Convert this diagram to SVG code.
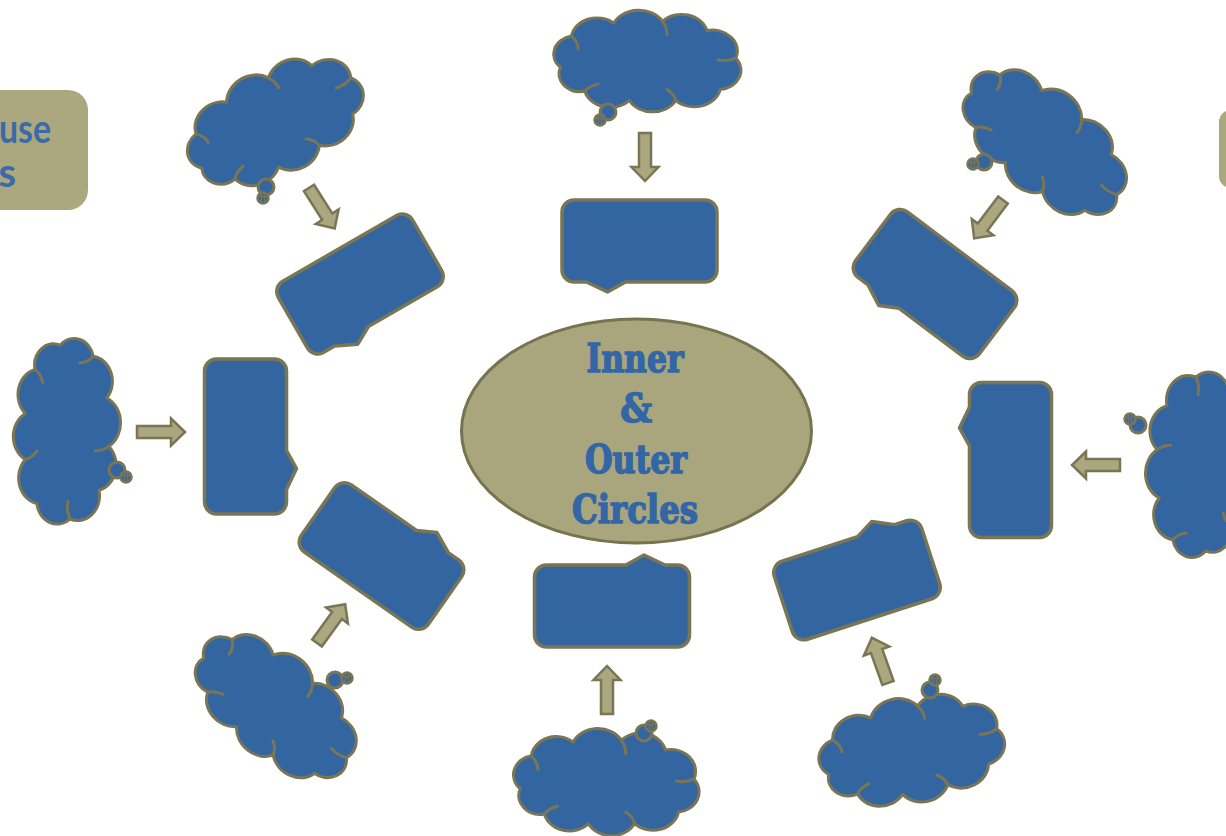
<svg xmlns="http://www.w3.org/2000/svg" xmlns:xlink="http://www.w3.org/1999/xlink" width="1226" height="836" viewBox="0 0 1226 836">
<style>
.cl{fill:#3366A1;stroke:#7A7655;stroke-width:3;stroke-linejoin:round}
.hk{fill:none;stroke:#7A7655;stroke-width:3;stroke-linecap:round}
.bx{fill:#3366A1;stroke:#7A7655;stroke-width:3.5;stroke-linejoin:round}
.ar{fill:#ABA77E;stroke:#7A7655;stroke-width:2.5}
.sd{fill:#3366A1;stroke:#7A7655;stroke-width:2.5}
.sx{fill:none;stroke:#7A7655;stroke-width:1.3}
.ct{font-family:'DejaVu Serif Condensed','DejaVu Serif',serif;font-stretch:condensed;font-weight:bold;font-size:39px;fill:#3366A6;stroke:#3366A6;stroke-width:1.4;text-anchor:middle}
.pt{font-family:Lato,'Liberation Sans',sans-serif;font-weight:bold;font-size:40px;fill:#3B6AA8;text-anchor:end}
</style>
<defs>
<g id="cloud">
<path class="cl" vector-effect="non-scaling-stroke" d="M-78,8 A20,20 0 0 1 -68,-26 A23,23 0 0 1 -30,-40 A25,25 0 0 1 14,-42 A23.5,23.5 0 0 1 54,-32 A22.6,22.6 0 0 1 80,-2 A21,21 0 0 1 66,32 A23.8,23.8 0 0 1 26,44 A24,24 0 0 1 -16,44 A23.5,23.5 0 0 1 -56,34 A19.4,19.4 0 0 1 -78,8 Z"/>
<path class="hk" vector-effect="non-scaling-stroke" d="M-68,-26 Q-62,-20 -62,-12 M14,-42 Q18,-36 18,-28 M80,-2 Q72,2 64,0 M26,44 Q24,36 18,32 M-56,34 Q-52,28 -44,26"/>
</g>
<g id="dot">
<circle r="5.5" class="sd"/>
<path class="sx" d="M-4,-1.5H4M-1.5,-4V4M1.5,-4V4"/>
</g>
<path id="callout" class="bx" d="M-65.5,-41 H65.5 A12,12 0 0 1 77.5,-29 V29 A12,12 0 0 1 65.5,41 H-14 L-32,51 L-53,41 H-65.5 A12,12 0 0 1 -77.5,29 V-29 A12,12 0 0 1 -65.5,-41 Z"/>
<path id="arrow" class="ar" d="M0,-6 L34,-6 L34,-13.5 L48,0 L34,13.5 L34,6 L0,6 Z"/>
</defs>

<g id="side-left">
<rect x="-40" y="90" width="128" height="120" rx="20" fill="#ABA77E"/>
<text class="pt" x="51" y="143" textLength="52" lengthAdjust="spacingAndGlyphs">use</text>
<text class="pt" x="16" y="187">s</text>
</g>
<g id="side-right">
<rect x="1219" y="110" width="40" height="78" rx="12" fill="#ABA77E"/>
</g>

<g id="center">
<ellipse cx="636.5" cy="431" rx="175" ry="112" fill="#A9A57C" stroke="#77734F" stroke-width="3"/>
<text class="ct" x="635" y="372" textLength="97" lengthAdjust="spacingAndGlyphs">Inner</text>
<text class="ct" x="636" y="422">&amp;</text>
<text class="ct" x="636" y="473" textLength="102" lengthAdjust="spacingAndGlyphs">Outer</text>
<text class="ct" x="635" y="523" textLength="126" lengthAdjust="spacingAndGlyphs">Circles</text>
</g>

<g id="box-top"><use href="#callout" transform="translate(639.5,241)"/></g>
<g id="box-bottom"><use href="#callout" transform="translate(612,606) rotate(180)"/></g>
<g id="box-left"><use href="#callout" transform="translate(245.5,436.5) rotate(-90)"/></g>
<g id="box-right"><use href="#callout" transform="translate(1010.5,460) rotate(90)"/></g>
<g id="box-top-left"><use href="#callout" transform="translate(360,284) rotate(-30)"/></g>
<g id="box-top-right"><use href="#callout" transform="translate(935,284) rotate(37)"/></g>
<g id="box-bottom-left"><use href="#callout" transform="translate(381.5,556) rotate(215)"/></g>
<g id="box-bottom-right"><use href="#callout" transform="translate(857,580) rotate(162)"/></g>

<g id="cloud-top">
<use href="#cloud" transform="translate(647,60) scale(1.11,0.92)"/>
<circle class="cl" cx="608" cy="112" r="8"/><use href="#dot" x="600" y="120"/>
</g>
<g id="cloud-top-left">
<use href="#cloud" transform="translate(274,121) rotate(-28) scale(1.1,0.97)"/>
<circle class="cl" cx="266" cy="187" r="8"/><use href="#dot" x="263" y="198"/>
</g>
<g id="cloud-top-right">
<use href="#cloud" transform="translate(1045,141) rotate(38) scale(1.12,0.94)"/>
<circle class="cl" cx="984" cy="162" r="8"/><use href="#dot" x="973" y="164"/>
</g>
<g id="cloud-left">
<use href="#cloud" transform="translate(68,431) rotate(90) scale(1.1,0.97)"/>
<circle class="cl" cx="117" cy="470" r="8"/><use href="#dot" x="126" y="477"/>
</g>
<g id="cloud-right">
<use href="#cloud" transform="translate(1198,465) rotate(-90) scale(1.1,0.97)"/>
<circle class="cl" cx="1138" cy="425" r="8"/><use href="#dot" x="1130" y="419"/>
</g>
<g id="cloud-bottom-left">
<use href="#cloud" transform="translate(276,705) rotate(38) scale(1.1,0.94)"/>
<circle class="cl" cx="335" cy="680" r="8"/><use href="#dot" x="347" y="678"/>
</g>
<g id="cloud-bottom">
<use href="#cloud" transform="translate(606,781) scale(1.1,0.97)"/>
<circle class="cl" cx="644" cy="733" r="8"/><use href="#dot" x="651" y="726"/>
</g>
<g id="cloud-bottom-right">
<use href="#cloud" transform="translate(911,749) rotate(-12) scale(1.1,0.97)"/>
<circle class="cl" cx="930" cy="690" r="8"/><use href="#dot" x="935" y="680"/>
</g>

<g id="connectors">
<use href="#arrow" transform="translate(645,133) rotate(90)"/>
<use href="#arrow" transform="translate(137,432)"/>
<use href="#arrow" transform="translate(1120,465) rotate(180)"/>
<use href="#arrow" transform="translate(607,714) rotate(-90)"/>
<use href="#arrow" transform="translate(309,188) rotate(57.6)"/>
<use href="#arrow" transform="translate(1003,200) rotate(126.9)"/>
<use href="#arrow" transform="translate(317,643) rotate(-54)"/>
<use href="#arrow" transform="translate(888,683) rotate(-109.6)"/>
</g>
</svg>
